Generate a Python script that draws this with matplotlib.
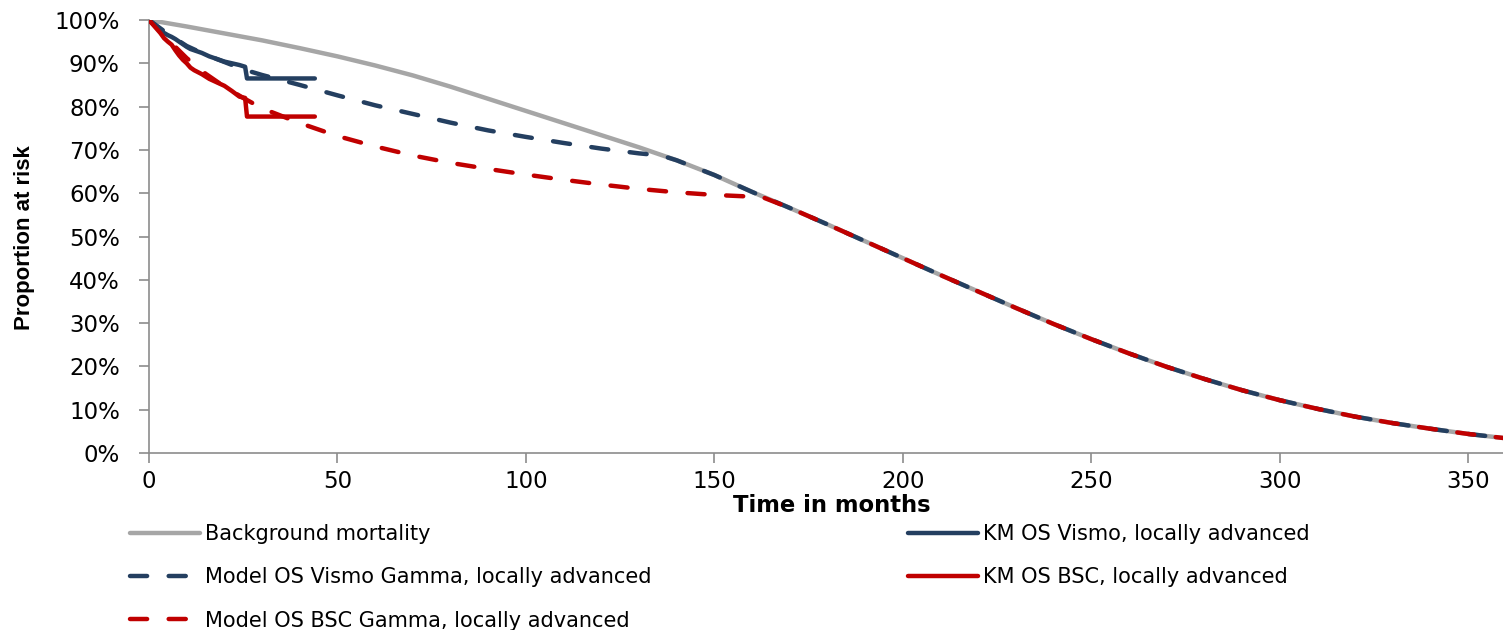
import matplotlib
matplotlib.use("Agg")
import matplotlib.pyplot as plt
from matplotlib.lines import Line2D
import numpy as np

# ---------------- data ----------------
bg_t = [0, 10, 20, 30, 40, 50, 60, 70, 80, 90, 100, 110, 120, 130, 140, 150,
        160, 170, 180, 190, 200, 210, 220, 230, 240, 250, 260, 270, 280, 290,
        300, 310, 320, 330, 340, 350, 360]
bg_s = [100, 98.5, 96.9, 95.3, 93.5, 91.6, 89.5, 87.2, 84.6, 81.8, 79.0, 76.2,
        73.4, 70.6, 67.6, 64.2, 60.3, 56.6, 52.8, 48.9, 45.0, 41.1, 37.3, 33.5,
        29.8, 26.3, 23.0, 19.9, 17.1, 14.5, 12.2, 10.2, 8.4, 6.9, 5.6, 4.4, 3.4]

vis_model_t = [0, 5, 10, 15, 20, 25, 30, 40, 50, 60, 70, 80, 90, 100, 110, 120,
               130, 136, 140, 150, 160, 170, 180, 190, 200, 210, 220, 230, 240,
               250, 260, 270, 280, 290, 300, 310, 320, 330, 340, 350, 360]
vis_model_s = [100, 96.8, 94.0, 92.0, 90.3, 88.6, 87.3, 85.0, 82.6, 80.3, 78.3,
               76.3, 74.5, 73.0, 71.6, 70.3, 69.2, 68.7, 67.6, 64.2, 60.3, 56.6,
               52.8, 48.9, 45.0, 41.1, 37.3, 33.5, 29.8, 26.3, 23.0, 19.9, 17.1,
               14.5, 12.2, 10.2, 8.4, 6.9, 5.6, 4.4, 3.4]

bsc_model_t = [0, 5, 10, 15, 20, 25, 30, 40, 50, 60, 70, 80, 90, 100, 110, 120,
               130, 140, 150, 160, 163, 170, 180, 190, 200, 210, 220, 230, 240,
               250, 260, 270, 280, 290, 300, 310, 320, 330, 340, 350, 360]
bsc_model_s = [100, 95.5, 91.2, 87.6, 84.6, 82.0, 79.6, 76.2, 73.2, 70.8, 68.7,
               67.0, 65.6, 64.3, 63.1, 62.0, 61.0, 60.2, 59.6, 59.2, 59.0, 56.6,
               52.8, 48.9, 45.0, 41.1, 37.3, 33.5, 29.8, 26.3, 23.0, 19.9, 17.1,
               14.5, 12.2, 10.2, 8.4, 6.9, 5.6, 4.4, 3.4]

km_vis_t = [0, 1, 2, 3, 4, 5, 6, 7, 8, 9, 10, 11, 12, 14, 16, 18, 20, 22, 24,
            25.5, 26, 30, 44]
km_vis_s = [100, 99.2, 98.6, 97.8, 97.0, 96.5, 96.1, 95.6, 95.0, 94.4, 93.8,
            93.3, 93.0, 92.4, 91.6, 91.0, 90.4, 90.0, 89.6, 89.2, 86.5, 86.5, 86.5]

km_bsc_t = [0, 1, 2, 3, 4, 5, 6, 7, 8, 9, 10, 11, 12, 14, 16, 18, 20, 22, 24,
            25.5, 26, 30, 44]
km_bsc_s = [100, 99.0, 98.0, 97.0, 95.8, 95.0, 94.3, 93.0, 91.8, 90.8, 90.0,
            89.0, 88.4, 87.5, 86.4, 85.6, 84.8, 83.6, 82.3, 82.0, 77.7, 77.7, 77.7]

x_ticks = [0, 50, 100, 150, 200, 250, 300, 350]
y_ticks = [0, 10, 20, 30, 40, 50, 60, 70, 80, 90, 100]
y_tick_labels = [f"{v}%" for v in y_ticks]

labels = ["Background mortality",
          "Model OS Vismo Gamma, locally advanced",
          "Model OS BSC Gamma, locally advanced",
          "KM OS Vismo, locally advanced",
          "KM OS BSC, locally advanced"]

# ---------------- style ----------------
GRAY = "#A6A6A6"
BLUE = "#243F60"
RED = "#C00000"
AXC = "#8C8C8C"
LW = 3.2
DASH = (3.85, 4.85)

plt.rcParams['font.family'] = ['DejaVu Sans']

fig = plt.figure(figsize=(15.03, 6.30), dpi=100)
W, H = 1503, 630
ax = fig.add_axes([149 / W, (H - 453) / H, (W - 149) / W, (453 - 20) / H])

ax.plot(bg_t, bg_s, color=GRAY, lw=LW, solid_capstyle='round',
        solid_joinstyle='round', zorder=2)
ax.plot(vis_model_t, vis_model_s, color=BLUE, lw=LW, dashes=DASH,
        dash_capstyle='round', zorder=3)
ax.plot(bsc_model_t, bsc_model_s, color=RED, lw=LW, dashes=DASH,
        dash_capstyle='round', zorder=4)
ax.plot(km_vis_t, km_vis_s, color=BLUE, lw=LW, zorder=5,
        solid_joinstyle='round', solid_capstyle='round')
ax.plot(km_bsc_t, km_bsc_s, color=RED, lw=LW, zorder=6,
        solid_joinstyle='round', solid_capstyle='round')

ax.set_xlim(0, (W - 149) / 3.769)
ax.set_ylim(0, 100)
ax.set_xticks(x_ticks)
ax.set_yticks(y_ticks)
ax.set_yticklabels(y_tick_labels)
ax.tick_params(axis='both', direction='out', length=7, width=1.2, color=AXC,
               labelsize=16.5, labelcolor='black')
ax.tick_params(axis='y', pad=14)
ax.tick_params(axis='x', pad=5)
for s in ['top', 'right']:
    ax.spines[s].set_visible(False)
for s in ['left', 'bottom']:
    ax.spines[s].set_color(AXC)
    ax.spines[s].set_linewidth(1.2)

fig.text(832 / W, 1 - 506 / H, "Time in months", ha='center', va='center',
         fontsize=16.3, fontweight='bold')
fig.text(25 / W, 1 - 238 / H, "Proportion at risk", ha='center', va='center',
         rotation=90, fontsize=16, fontweight='bold',
         family=['Liberation Sans Narrow', 'Liberation Sans', 'DejaVu Sans'])

leg_kw = dict(frameon=False, fontsize=15, handlelength=3.36,
              handletextpad=0.25, labelspacing=1.12, borderaxespad=0,
              borderpad=0)
h1 = [Line2D([], [], color=GRAY, lw=LW, solid_capstyle='round'),
      Line2D([], [], color=BLUE, lw=LW, dashes=DASH, dash_capstyle='round'),
      Line2D([], [], color=RED, lw=LW, dashes=DASH, dash_capstyle='round')]
h2 = [Line2D([], [], color=BLUE, lw=LW, solid_capstyle='round'),
      Line2D([], [], color=RED, lw=LW, solid_capstyle='round')]
fig.legend(h1, labels[:3], loc='upper left',
           bbox_to_anchor=(130 / W, 1 - 524 / H), **leg_kw)
fig.legend(h2, labels[3:], loc='upper left',
           bbox_to_anchor=(908 / W, 1 - 524 / H), **leg_kw)

fig.savefig("out.png", dpi=100)
